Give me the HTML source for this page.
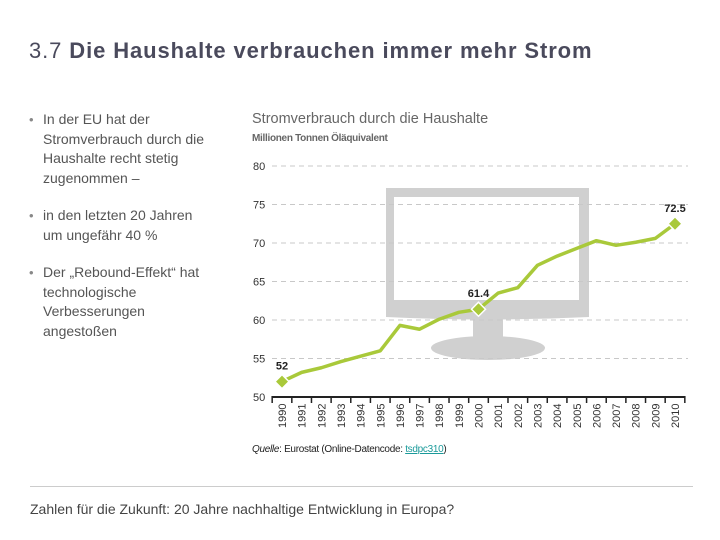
<!DOCTYPE html>
<html><head><meta charset="utf-8"><style>
body{margin:0;width:720px;height:540px;background:#fff;font-family:"Liberation Sans",sans-serif;position:relative;overflow:hidden}
.t{position:absolute;white-space:nowrap}
#title{left:29px;top:38px;font-size:22px;color:#4a4a5c;letter-spacing:0.9px}
#title b{font-weight:bold}
ul{position:absolute;left:29px;top:110px;margin:0;padding:0;list-style:none;width:200px;color:#555;font-size:14px;line-height:19.5px}
li{position:relative;padding-left:14px;margin-bottom:18px}
li:before{content:"•";position:absolute;left:0;top:0;font-size:13px;color:#888}
</style></head><body>
<div class="t" id="title">3.7 <b>Die Haushalte verbrauchen immer mehr Strom</b></div>
<ul>
<li>In der EU hat der Stromverbrauch durch die Haushalte recht stetig zugenommen –</li>
<li>in den letzten 20 Jahren<br>um ungefähr 40 %</li>
<li>Der „Rebound-Effekt“ hat<br>technologische<br>Verbesserungen<br>angestoßen</li>
</ul>
<div class="t" style="left:252px;top:111px;font-size:14.5px;color:#666">Stromverbrauch durch die Haushalte</div>
<div class="t" style="left:252px;top:133px;font-size:10px;font-weight:bold;color:#666;letter-spacing:-0.3px">Millionen Tonnen Öläquivalent</div>
<svg id="chart" width="720" height="540" style="position:absolute;left:0;top:0">
<g>
<path d="M386 188 H589 V317 Q488 322 386 317 Z" fill="#d0d0d0"/>
<rect x="394" y="197" width="185" height="103" fill="#fff"/>
<rect x="473" y="318" width="30" height="28" fill="#d0d0d0"/>
<ellipse cx="488" cy="348" rx="57" ry="12" fill="#d0d0d0"/>
</g>
<g id="grid"></g><g id="axis"></g><g id="series"></g>
</svg>
<div class="t" style="left:252px;top:444px;font-size:10px;color:#222;letter-spacing:-0.3px"><i>Quelle</i>: Eurostat (Online-Datencode: <span style="color:#1a9a9a;text-decoration:underline">tsdpc310</span>)</div>
<div style="position:absolute;left:30px;top:486px;width:663px;height:1px;background:#ccc"></div>
<div class="t" style="left:30px;top:501px;font-size:14px;color:#444">Zahlen für die Zukunft: 20 Jahre nachhaltige Entwicklung in Europa?</div>
<script>
const years=[1990,1991,1992,1993,1994,1995,1996,1997,1998,1999,2000,2001,2002,2003,2004,2005,2006,2007,2008,2009,2010];
const values=[52,53.2,53.8,54.6,55.3,56.0,59.3,58.8,60.1,61.0,61.4,63.5,64.2,67.1,68.3,69.3,70.3,69.7,70.1,70.6,72.5];
const yTicks=[50,55,60,65,70,75,80];
const labeled=[0,10,20];
const NS="http://www.w3.org/2000/svg";
const x=i=>282+i*(675-282)/(years.length-1);
const y=v=>397-(v-50)*(397-166)/30;
function mk(t,a,p){const e=document.createElementNS(NS,t);for(const k in a)e.setAttribute(k,a[k]);p.appendChild(e);return e;}
const grid=document.getElementById('grid'),axis=document.getElementById('axis'),ser=document.getElementById('series');
yTicks.forEach(v=>{
  if(v>50){const l=mk('line',{x1:272,x2:688,y1:y(v),y2:y(v),stroke:'#c8c8c8','stroke-dasharray':'5,4'},grid);
  
  }
  const t=mk('text',{x:253,y:y(v)+4,'font-size':11,fill:'#333','font-family':'Liberation Sans'},axis);t.textContent=v;
  
  
});
const ax=mk('line',{x1:272,x2:685,y1:397,y2:397,stroke:'#222','stroke-width':2},axis);


for(let i=0;i<=years.length;i++){const xx=x(i-0.5);mk('line',{x1:xx,x2:xx,y1:396,y2:403,stroke:'#222','stroke-width':1.5},axis);}
years.forEach((yr,i)=>{const t=mk('text',{transform:`translate(${x(i)+4},428) rotate(-90)`,'font-size':11,fill:'#333','font-family':'Liberation Sans'},axis);t.textContent=yr;
  
  });
const pl=mk('polyline',{points:values.map((v,i)=>x(i)+','+y(v)).join(' '),fill:'none',stroke:'#a9c93a','stroke-width':3.5,'stroke-linejoin':'round'},ser);


labeled.forEach(i=>{const cx=x(i),cy=y(values[i]);
  const d=mk('polygon',{points:`${cx},${cy-7} ${cx+7},${cy} ${cx},${cy+7} ${cx-7},${cy}`,fill:'#a9c93a',stroke:'#fff','stroke-width':1.5},ser);
  
  
  const t=mk('text',{x:cx,y:cy-12,'font-size':11,'font-weight':'bold',fill:'#222','text-anchor':'middle','font-family':'Liberation Sans'},ser);t.textContent=values[i];
  
  });
</script>
</body></html>
